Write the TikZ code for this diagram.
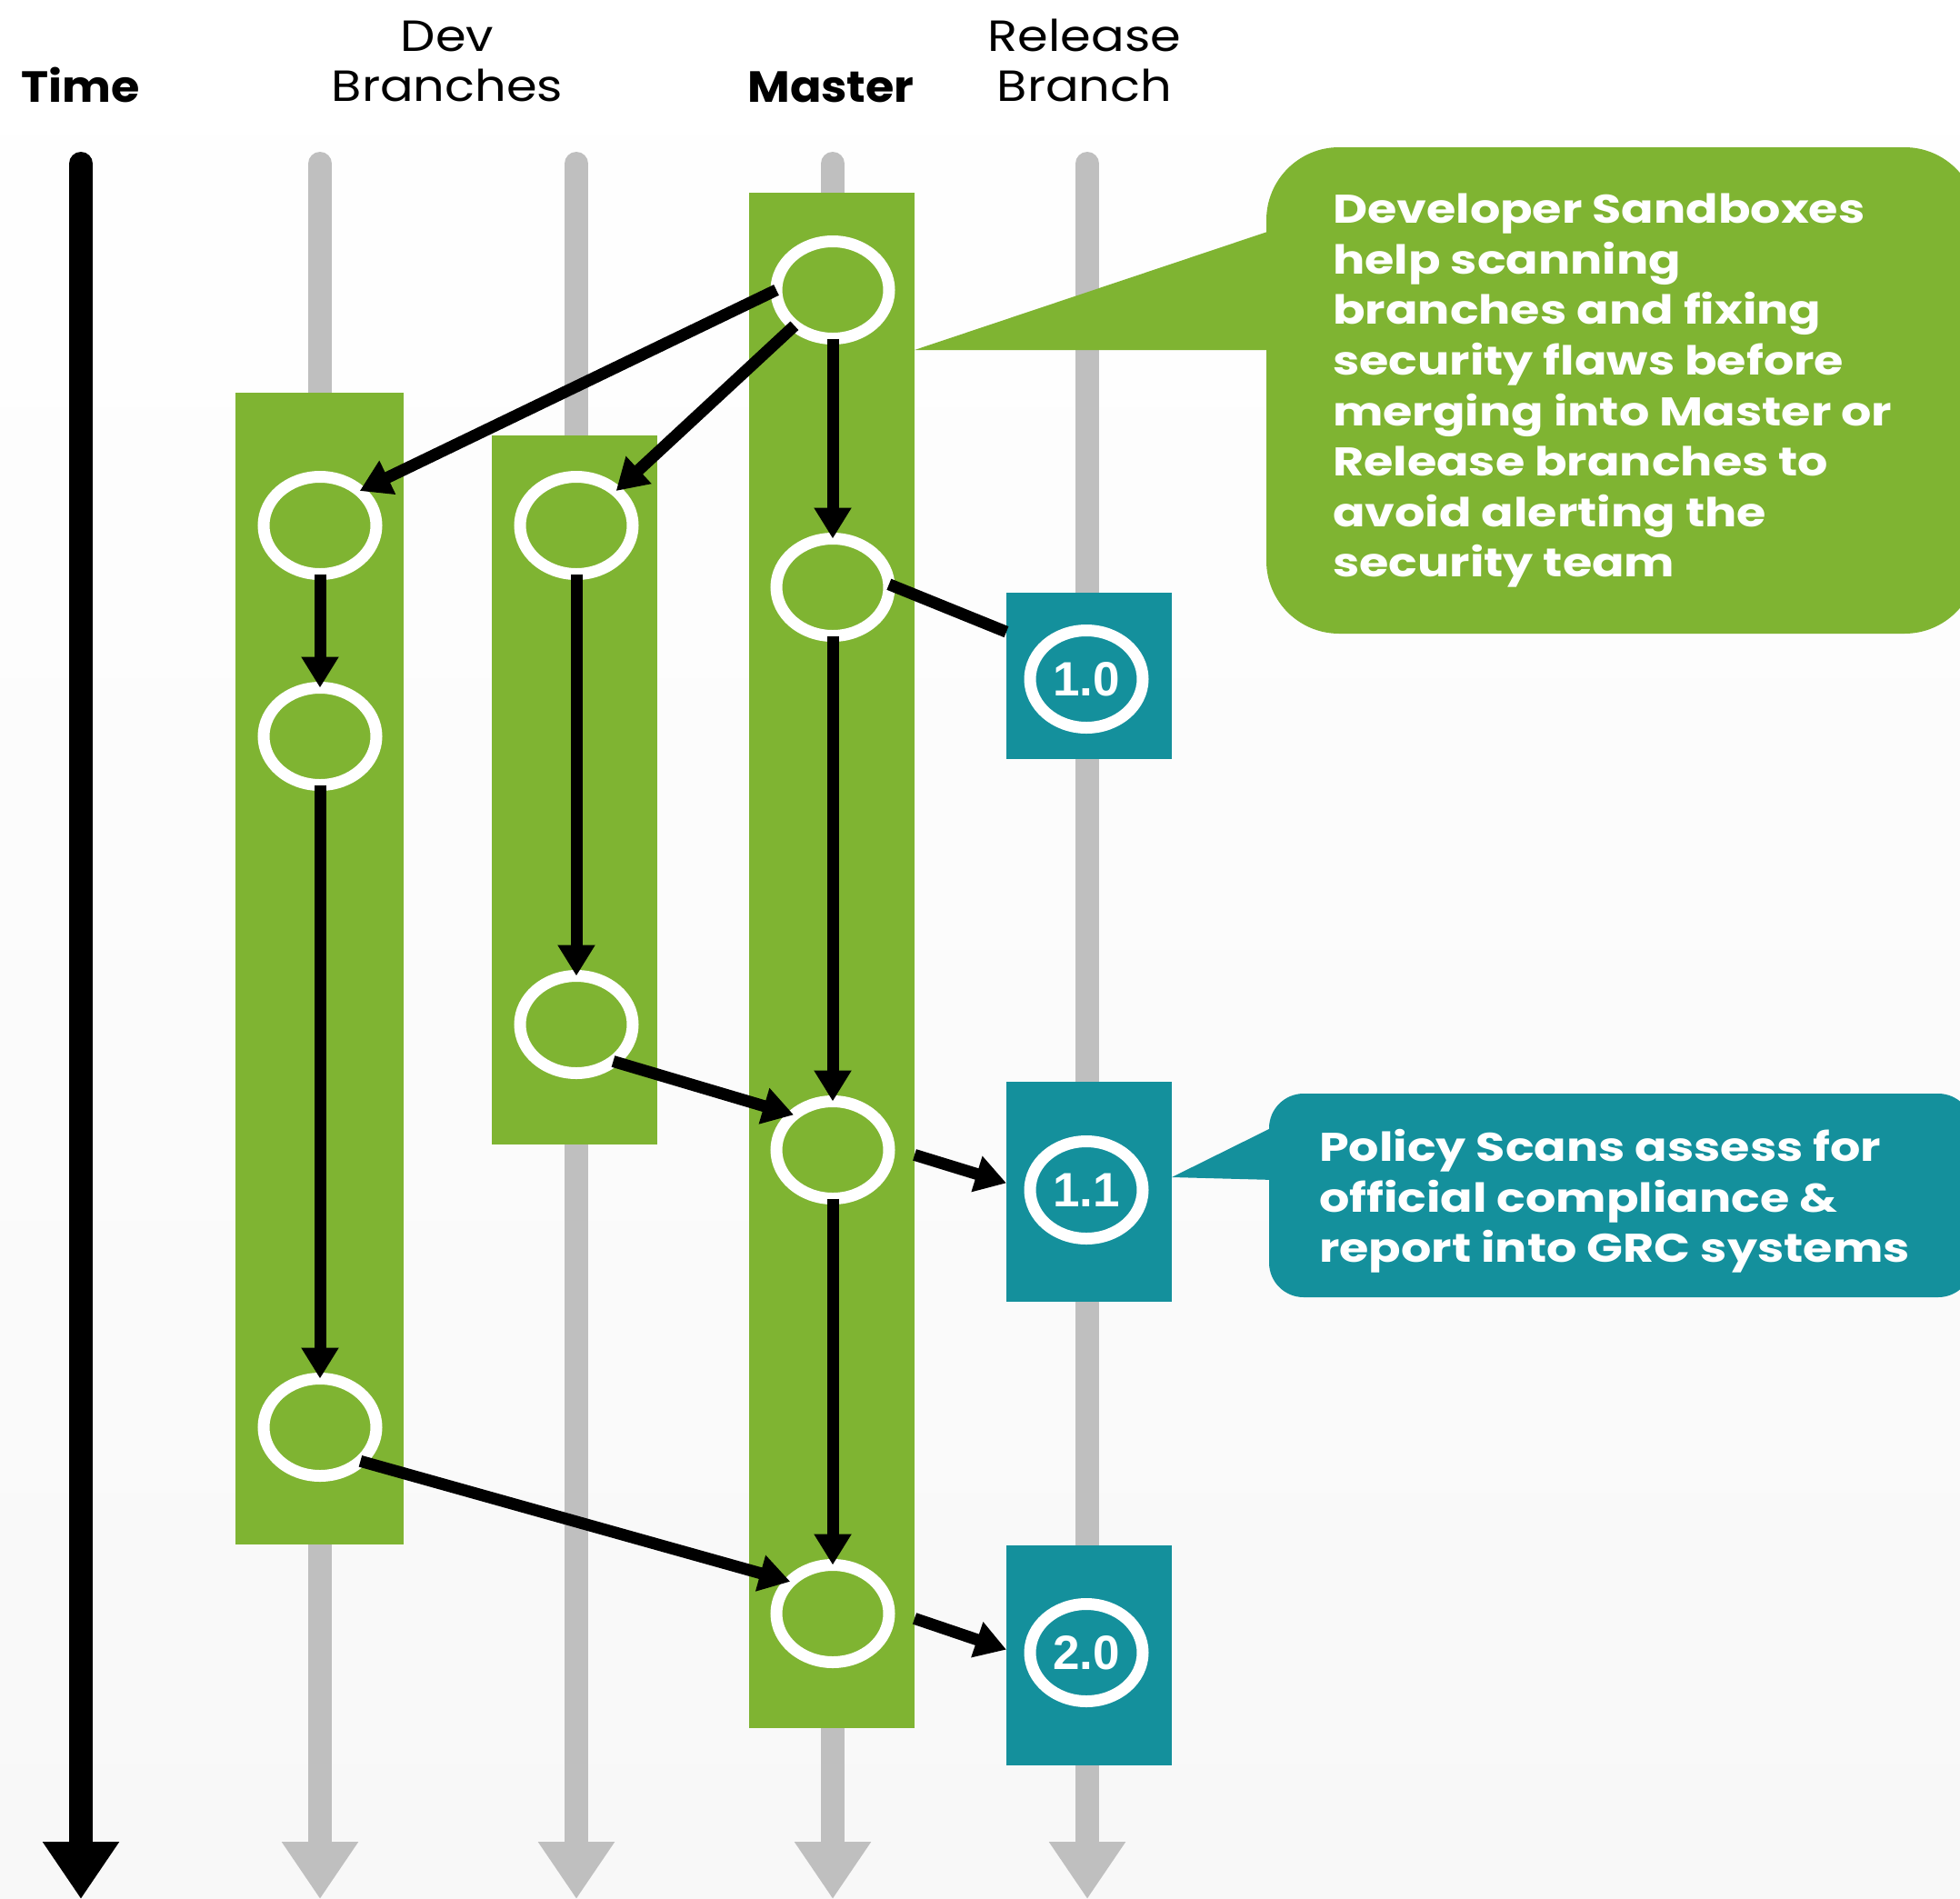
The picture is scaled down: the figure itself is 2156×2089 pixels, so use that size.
\documentclass[tikz,border=0pt]{standalone}
\usepackage{fontspec}
\setmainfont{Poppins}
\newfontfamily\numfont{Liberation Sans}
\newfontfamily\notefont[FakeStretch=1.19]{Poppins}
\newfontfamily\headfont[FakeStretch=1.13]{Poppins}
\newfontfamily\boldheadfont[FakeStretch=1.06]{Poppins}
\usetikzlibrary{arrows.meta,shapes.geometric}
\definecolor{gitgreen}{RGB}{127,180,50}
\definecolor{gitteal}{RGB}{20,144,156}
\definecolor{lanegray}{RGB}{191,191,191}
\definecolor{bgbottom}{RGB}{248,248,248}
\begin{document}
\begin{tikzpicture}[x=1pt,y=-1pt,
  lane/.style={line width=26pt, line cap=round, draw=lanegray, -{Triangle[length=63pt,width=80pt]}},
  timeline/.style={lane, draw=black},
  branchbox/.style={fill=gitgreen},
  commit/.style={ellipse, draw=white, line width=13pt, minimum width=124pt, minimum height=107pt, inner sep=0pt, outer sep=0pt},
  tagbox/.style={rectangle, fill=gitteal, minimum width=182pt, inner sep=0pt, outer sep=0pt},
  flow/.style={line width=13pt, -{Triangle[length=34pt,width=39pt]}},
  link/.style={line width=13pt},
  header/.style={font=\headfont\fontsize{48}{55}\selectfont, inner sep=0pt, align=center},
  boldheader/.style={font=\boldheadfont\bfseries\fontsize{48}{55}\selectfont, inner sep=0pt},
  note/.style={font=\notefont\bfseries\fontsize{44}{55.6}\selectfont, text=white, inner sep=0pt, align=left},
  vnum/.style={font=\numfont\bfseries\fontsize{53}{53}\selectfont, text=white},
]
\useasboundingbox (0,0) rectangle (2156,2089);
\shade[top color=white, bottom color=bgbottom] (0,0) rectangle (2156,2089);
\clip (0,0) rectangle (2156,2089);

% headers
\node[boldheader, anchor=base] (time) at (89,112) {Time};
\node[header, anchor=south] (dev) at (492,112) {Dev\\Branches};
\node[boldheader, anchor=base] (master) at (914,112) {Master};
\node[header, anchor=south] (rel) at (1193,112) {Release\\Branch};

% lanes
\draw[timeline] (89,180) -- (89,2089);
\draw[lane] (352,180) -- (352,2089);
\draw[lane] (634,180) -- (634,2089);
\draw[lane] (916,180) -- (916,2089);
\draw[lane] (1196,180) -- (1196,2089);

% branch boxes
\fill[branchbox] (259,432) rectangle (444,1699);
\fill[branchbox] (541,479) rectangle (723,1259);
\fill[branchbox] (824,212) rectangle (1006,1901);
\coordinate (mright) at (1006,0);

% callouts
\fill[gitgreen, rounded corners=80pt] (1393,162) rectangle (2175,697);
\fill[gitgreen] (1400,253) -- (1006,385) -- (1400,385) -- cycle;
\fill[gitteal, rounded corners=38pt] (1396,1203) rectangle (2170,1427);
\fill[gitteal] (1402,1239) -- (1289,1295) -- (1402,1298) -- cycle;
\node[note, anchor=north west] (sandbox) at (1466,213) {Developer Sandboxes\\help scanning\\branches and fixing\\security flaws before\\merging into Master or\\Release branches to\\avoid alerting the\\security team};
\node[note, anchor=north west] (policy) at (1451,1242) {Policy Scans assess for\\official compliance \&\\report into GRC systems};

% release tags
\node[tagbox, minimum height=183pt] (r10) at (1198,743.5) {};
\node[tagbox, minimum height=242pt] (r11) at (1198,1311) {};
\node[tagbox, minimum height=242pt] (r20) at (1198,1821) {};
\node[commit, vnum] (c10) at (1195,747) {1.0};
\node[commit, vnum] (c11) at (1195,1309) {1.1};
\node[commit, vnum] (c20) at (1195,1818) {2.0};

% commits
\node[commit] (M1) at (916,319) {};
\node[commit] (M2) at (916,646) {};
\node[commit] (M3) at (916,1265) {};
\node[commit] (M4) at (916,1775) {};
\node[commit] (D1a) at (352,578) {};
\node[commit] (D1b) at (352,810) {};
\node[commit] (D1c) at (352,1570) {};
\node[commit] (D2a) at (634,578) {};
\node[commit] (D2b) at (634,1127) {};

% connectors
\draw[flow] (M1.180) -- (D1a.41);
\draw[flow] (M1.223) -- (D2a.41);
\draw[flow] (M1) -- (M2);
\draw[flow] (D1a) -- (D1b);
\draw[flow] (D1b) -- (D1c);
\draw[flow] (D2a) -- (D2b);
\draw[flow] (M2) -- (M3);
\draw[flow] (M3) -- (M4);
\draw[flow] (D2b.315) -- (M3.138);
\draw[flow] (D1c.320) -- (M4.143);
\draw[link] (M2.3) -- (r10.152);
\draw[flow] (M3.-5 -| mright) -- (r11.174);
\draw[flow] (M4.-5 -| mright) -- (r20.176);
\end{tikzpicture}
\end{document}
